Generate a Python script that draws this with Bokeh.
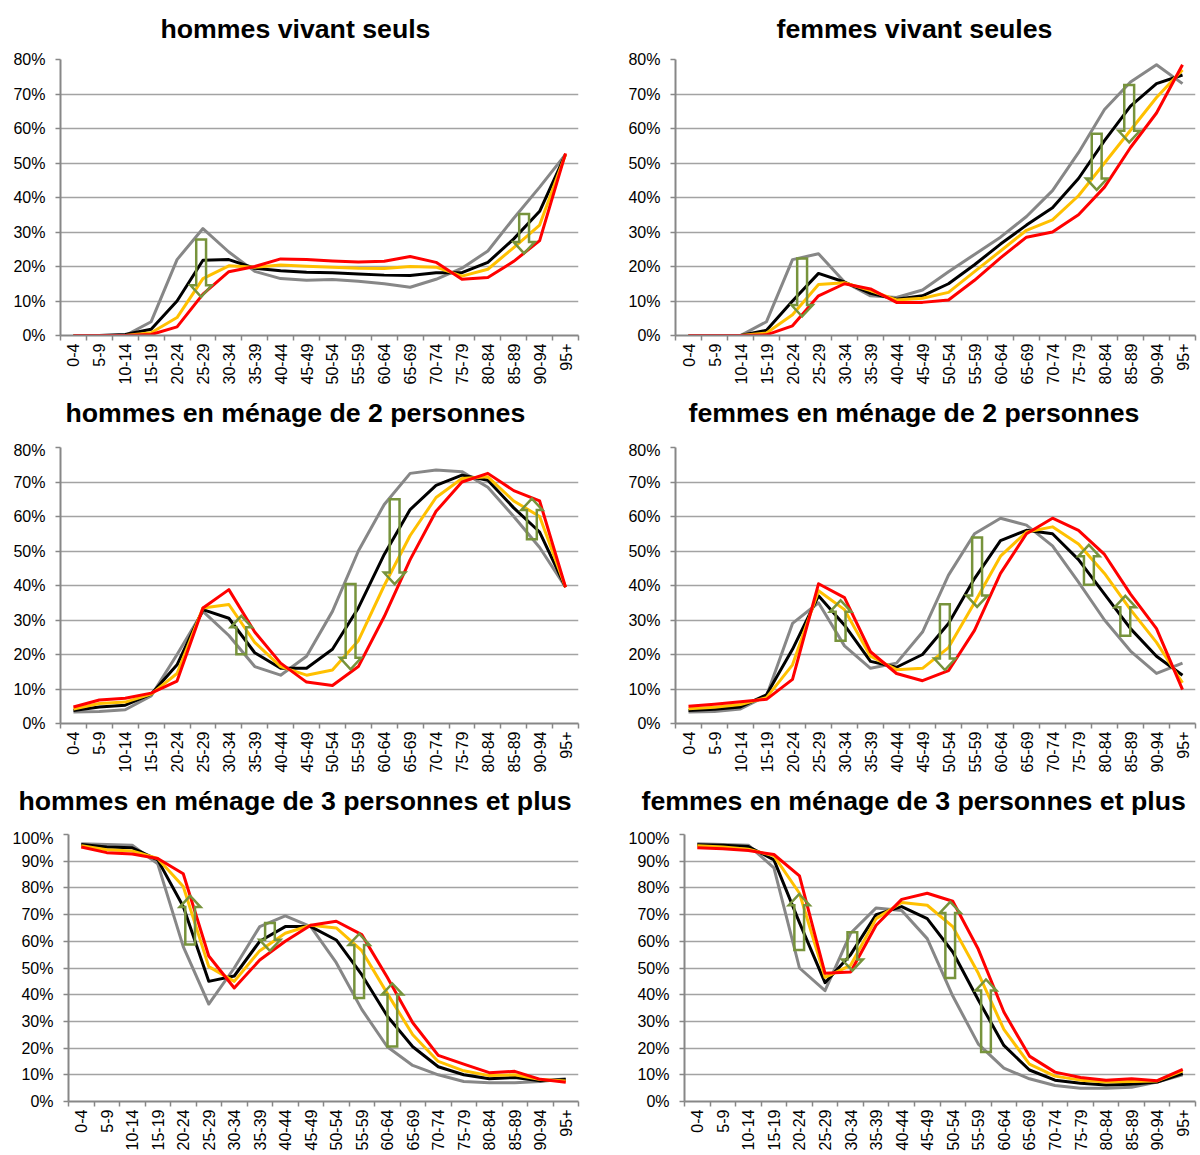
import math
from bokeh.plotting import figure
from bokeh.layouts import column, row
from bokeh.models import FixedTicker, NumeralTickFormatter, Title, Range1d
from bokeh.embed import file_html
from bokeh.resources import INLINE

FONT = "Liberation Sans"

ages = ["0-4", "5-9", "10-14", "15-19", "20-24", "25-29", "30-34", "35-39", "40-44",
        "45-49", "50-54", "55-59", "60-64", "65-69", "70-74", "75-79", "80-84",
        "85-89", "90-94", "95+"]

# ---- values in % ----
# hommes vivant seuls
hs_gray = [0, 0, 0, 4, 22, 31, 24.2, 18.6, 16.5, 16.0, 16.2, 15.7, 15.0, 14.0, 16.3, 19.5, 24.5, 34.0, 43.0, 52.5]
hs_black = [0, 0, 0.3, 1.8, 10, 21.8, 22.0, 19.5, 18.8, 18.3, 18.2, 17.8, 17.5, 17.4, 18.2, 18.2, 21.2, 28.0, 36.0, 52.5]
hs_yellow = [0, 0, 0, 0.8, 5.2, 16.5, 20.2, 19.8, 20.4, 20.1, 19.8, 19.5, 19.4, 20.0, 19.8, 17.2, 19.2, 25.5, 32.0, 52.5]
hs_red = [0, 0, 0, 0.3, 2.5, 12.0, 18.5, 20.0, 22.2, 22.0, 21.6, 21.3, 21.5, 22.9, 21.2, 16.3, 16.8, 21.5, 27.5, 52.8]
hs_arrows = [(4.93, 27.8, 11.2), (17.4, 35.2, 23.8)]

# femmes vivant seules
fs_gray = [0, 0, 0, 4, 22, 23.7, 15.5, 11.5, 11.0, 13.2, 18.5, 23.5, 28.5, 34.5, 42, 53, 65.5, 73.5, 78.5, 73]
fs_black = [0, 0, 0, 1.5, 10, 18, 15.5, 12.2, 10.5, 11.5, 15, 20.5, 26.5, 32, 37, 45.5, 56.5, 66.5, 73, 75.5]
fs_yellow = [0, 0, 0, 0.7, 6, 14.8, 15.3, 13, 10.3, 10.8, 12.5, 18.5, 24.5, 30.5, 33.5, 40.5, 50, 59.5, 69, 77]
fs_red = [0, 0, 0, 0.2, 2.8, 11.5, 15, 13.5, 9.6, 9.6, 10.3, 16, 22.5, 28.5, 30, 35, 43, 54.5, 64.5, 78.5]
fs_arrows = [(4.37, 22.3, 5.5), (15.7, 58.5, 42.2), (16.95, 72.6, 56.0)]

# hommes en ménage de 2 personnes
h2_gray = [3.3, 3.5, 4.0, 8.0, 20, 32.5, 25.5, 16.5, 14, 19.5, 32.5, 50, 63.5, 72.5, 73.5, 73, 68.5, 60, 51, 39.5]
h2_black = [3.8, 4.8, 5.3, 8.5, 17, 33, 30.5, 20.5, 16, 16, 21.5, 33.5, 49, 62, 69, 72, 70.5, 62.5, 55.5, 39.5]
h2_yellow = [4.2, 5.8, 6.2, 8.5, 14.5, 33.5, 34.5, 23.5, 16.5, 14, 15.5, 24, 40, 54.5, 65.5, 71, 71.5, 64.5, 60, 39.5]
h2_red = [4.8, 6.8, 7.3, 8.8, 12.3, 33.5, 38.8, 26.5, 17.5, 12, 11, 16.5, 31, 47.5, 61.5, 70, 72.5, 67.5, 64.5, 39.5]
h2_arrows = [(6.48, 20.1, 31.2), (10.7, 40.4, 15.7), (12.4, 65.0, 40.4), (17.7, 53.4, 65.2)]

# femmes en ménage de 2 personnes
f2_gray = [3.3, 3.5, 4.2, 8, 29, 35, 22.5, 16, 17.5, 26.5, 43, 55, 59.5, 57.5, 51.5, 41, 30, 21, 14.5, 17.5]
f2_black = [3.8, 4.1, 4.8, 8.3, 21.5, 37, 28.5, 18, 16.3, 20, 29, 42, 53, 56, 55, 47.5, 37.5, 27.5, 19.5, 14]
f2_yellow = [4.3, 4.7, 5.5, 7.5, 17, 38.5, 33, 19.5, 15.6, 16, 22, 35, 48.5, 55.5, 57, 52, 43.5, 33, 23.5, 11.8]
f2_red = [5, 5.6, 6.3, 7, 12.8, 40.5, 36.5, 20.8, 14.5, 12.4, 15.3, 27, 43.5, 55, 59.5, 56, 49, 37.5, 27.5, 9.8]
f2_arrows = [(5.85, 24.0, 35.7), (9.86, 34.6, 15.5), (11.1, 53.9, 33.8), (15.4, 40.2, 51.8), (16.8, 25.4, 37.0)]

# hommes en ménage de 3 personnes et plus
h3_gray = [96.5, 96.3, 96, 89, 58, 36.5, 50, 65.5, 69.5, 65.5, 52, 34.5, 20.5, 13.5, 10, 7.5, 7, 7, 7.5, 8.5]
h3_black = [96.3, 95.3, 95, 90.5, 73, 45, 47, 60, 65.5, 65.5, 60.5, 47.5, 32, 20.5, 13, 10, 8.5, 9, 7.8, 8.2]
h3_yellow = [95.8, 94.3, 93.8, 91, 80.5, 50.5, 45, 56.5, 63, 66, 65, 56.5, 40.5, 25, 15, 11.5, 9.7, 10, 8.2, 7.7]
h3_red = [95.3, 93.2, 92.7, 91, 85.3, 54.5, 42.5, 53, 60, 66, 67.5, 62.5, 46.5, 29.5, 17.3, 14, 10.8, 11.3, 8.3, 7.2]
h3_arrows = [(4.27, 58.8, 77.0), (7.4, 66.9, 56.4), (10.9, 38.8, 62.8), (12.2, 20.6, 44.2)]

# femmes en ménage de 3 personnes et plus
f3_gray = [96.5, 96.3, 96, 87.5, 50, 41.5, 63, 72.5, 71.5, 61, 39.5, 21.5, 12.5, 8.5, 6, 5, 5, 5.3, 7.3, 10]
f3_black = [96.2, 96, 95.5, 90.5, 67, 44.5, 55, 70, 73, 68.5, 56, 38, 21, 11.8, 8, 6.8, 6.2, 6.5, 7.3, 10.5]
f3_yellow = [95.8, 95.3, 94.5, 92, 78, 46.5, 51, 68.5, 74.5, 73.5, 65.5, 48, 27, 14, 9.5, 8, 7.3, 7.5, 7.7, 11.5]
f3_red = [95, 94.7, 94, 92.5, 84.5, 48, 48.5, 66, 75.7, 78, 75, 57, 33.5, 17, 11, 9, 8, 8.5, 7.8, 12]
f3_arrows = [(3.99, 56.7, 77.7), (6.07, 63.4, 49.0), (9.9, 46.3, 74.8), (11.3, 18.5, 45.7)]

LINE_COLORS = ["#878787", "#000000", "#FFC000", "#FF0000"]
ARROW_COLOR = "#77933C"
GRID_COLOR = "#a3a3a3"
AXIS_COLOR = "#878787"


def title_model(text, offset, standoff):
    return Title(text=text, align="left", vertical_align="top", text_font=FONT,
                 text_font_style="bold", text_font_size="26.7px", text_color="black",
                 standoff=standoff, offset=offset)


def make_panel(series, arrows, ymax, width, height, left, right, top, bottom,
               title_above=None, title_below=None):
    """title_above / title_below: (text, offset, standoff). A title 'below' is the
    heading of the panel that sits underneath this one in the grid."""
    n = len(ages)
    p = figure(width=width, height=height, output_backend="svg", toolbar_location=None,
               x_range=Range1d(-0.5, n - 0.5), y_range=Range1d(0, ymax / 100.0),
               min_border_left=left, min_border_right=right,
               min_border_top=top, min_border_bottom=bottom)
    p.outline_line_color = None
    p.background_fill_color = "white"
    p.border_fill_color = "white"

    xs = list(range(n))
    for vals, col in zip(series, LINE_COLORS):
        p.line(xs, [v / 100.0 for v in vals], line_color=col, line_width=3, line_join="round")

    # block arrows (outlined)
    frame_h = 276
    hl = 11.5 * (ymax / 100.0) / frame_h
    sw, hw = 0.19, 0.41
    pxs, pys = [], []
    for (x, y0, y1) in arrows:
        a, b = y0 / 100.0, y1 / 100.0
        d = 1 if b > a else -1
        hb = b - d * hl
        pxs.append([x - sw, x + sw, x + sw, x + hw, x, x - hw, x - sw])
        pys.append([a, a, hb, hb, b, hb, hb])
    p.patches(pxs, pys, fill_alpha=0, line_color=ARROW_COLOR, line_width=2.5, line_join="miter")

    # x axis: labels at category centres, ticks between categories
    xa = p.xaxis[0]
    xa.ticker = FixedTicker(ticks=xs, minor_ticks=[i - 0.5 for i in range(n + 1)])
    xa.major_label_overrides = {i: lab for i, lab in enumerate(ages)}
    xa.major_label_orientation = math.pi / 2
    xa.major_tick_out = 0
    xa.major_tick_in = 0
    xa.minor_tick_out = 5
    xa.minor_tick_in = 0
    xa.minor_tick_line_color = AXIS_COLOR
    xa.minor_tick_line_width = 1.5
    xa.axis_line_color = AXIS_COLOR
    xa.axis_line_width = 2
    xa.major_label_standoff = 3
    xa.major_label_text_font = FONT
    xa.major_label_text_font_size = "16px"
    xa.major_label_text_color = "black"

    ya = p.yaxis[0]
    nt = int(round(ymax / 10))
    ya.ticker = FixedTicker(ticks=[i / 10.0 for i in range(nt + 1)])
    ya.formatter = NumeralTickFormatter(format="0%")
    ya.major_tick_out = 5
    ya.major_tick_in = 0
    ya.major_tick_line_color = AXIS_COLOR
    ya.major_tick_line_width = 1.5
    ya.minor_tick_line_color = None
    ya.axis_line_color = AXIS_COLOR
    ya.axis_line_width = 2
    ya.major_label_standoff = 10
    ya.major_label_text_font = FONT
    ya.major_label_text_font_size = "16px"
    ya.major_label_text_color = "black"

    p.xgrid.visible = False
    p.ygrid.grid_line_color = GRID_COLOR
    p.ygrid.grid_line_width = 1.3

    if title_above is not None:
        p.add_layout(title_model(*title_above), "above")
    if title_below is not None:
        p.add_layout(title_model(*title_below), "below")
    return p


LW, RW = 618, 581
p1 = make_panel([hs_gray, hs_black, hs_yellow, hs_red], hs_arrows, 80,
                LW, 441, 60, 40, 59, 53,
                title_above=("hommes vivant seuls", 100, 27),
                title_below=("hommes en ménage de 2 personnes", 5, 21.6))
p2 = make_panel([fs_gray, fs_black, fs_yellow, fs_red], fs_arrows, 80,
                RW, 441, 57, 4, 59, 53,
                title_above=("femmes vivant seules", 101, 27),
                title_below=("femmes en ménage de 2 personnes", 13, 21.6))
p3 = make_panel([h2_gray, h2_black, h2_yellow, h2_red], h2_arrows, 80,
                LW, 388, 60, 40, 6, 53,
                title_below=("hommes en ménage de 3 personnes et plus", -42, 21.6))
p4 = make_panel([f2_gray, f2_black, f2_yellow, f2_red], f2_arrows, 80,
                RW, 388, 57, 4, 6, 53,
                title_below=("femmes en ménage de 3 personnes et plus", -34, 21.6))
p5 = make_panel([h3_gray, h3_black, h3_yellow, h3_red], h3_arrows, 100,
                LW, 325, 68, 40, 5, 53)
p6 = make_panel([f3_gray, f3_black, f3_yellow, f3_red], f3_arrows, 100,
                RW, 325, 66, 4, 5, 53)

layout = column(row(p1, p2), row(p3, p4), row(p5, p6))
open("out.html", "w").write(file_html(layout, INLINE))
